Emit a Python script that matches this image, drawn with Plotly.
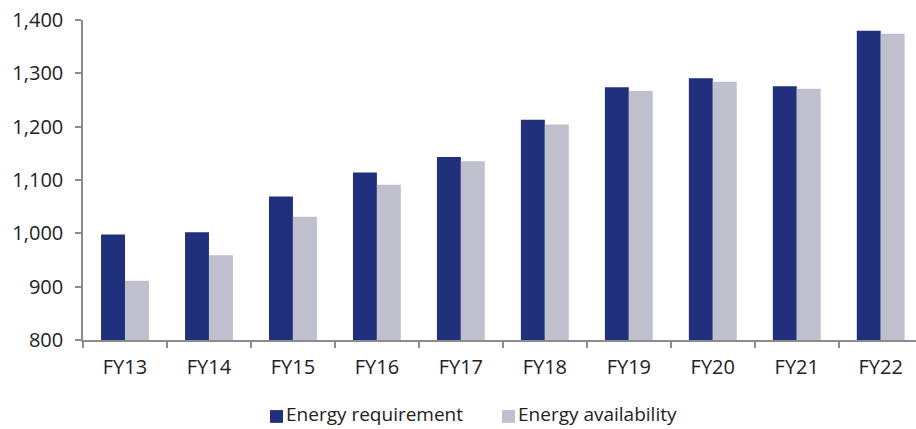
import plotly.graph_objects as go

# Fiscal years and energy figures (billion units)
years = ["FY13", "FY14", "FY15", "FY16", "FY17", "FY18", "FY19", "FY20", "FY21", "FY22"]
requirement = [998, 1002, 1069, 1114, 1143, 1213, 1274, 1291, 1276, 1380]
availability = [911, 959, 1031, 1091, 1135, 1204, 1267, 1284, 1271, 1374]
y_ticks = [800, 900, 1000, 1100, 1200, 1300, 1400]
series_names = ["Energy requirement", "Energy availability"]

NAVY = "#21307C"
LILAC = "#BFBFCD"
AXIS = "#8C8C8C"
TEXT = "#222222"
FONT = "Open Sans"

fig = go.Figure()
fig.add_trace(go.Bar(name=series_names[0], x=years, y=requirement,
                     marker=dict(color=NAVY, line=dict(width=0))))
fig.add_trace(go.Bar(name=series_names[1], x=years, y=availability,
                     marker=dict(color=LILAC, line=dict(width=0))))

fig.update_layout(
    width=916, height=429,
    margin=dict(l=83, r=0, t=20, b=89),
    paper_bgcolor="white", plot_bgcolor="white",
    barmode="group", bargap=0.43, bargroupgap=0,
    font=dict(family=FONT, size=20, color=TEXT),
    showlegend=False,
)
fig.update_xaxes(
    type="category", range=[-0.5, 9.42],
    showline=True, linecolor=AXIS, linewidth=1.5,
    ticks="outside", tickson="boundaries", ticklen=6, tickcolor=AXIS, tickwidth=1.5,
    ticklabelstandoff=8,
    showgrid=False, tickfont=dict(family=FONT, size=20, color=TEXT),
)
fig.update_yaxes(
    range=[800, 1400], tickvals=y_ticks, tickformat=",",
    showline=True, linecolor=AXIS, linewidth=1.5,
    ticks="outside", ticklen=6, tickcolor=AXIS, tickwidth=1.5,
    ticklabelstandoff=8,
    showgrid=False, zeroline=False, tickfont=dict(family=FONT, size=20, color=TEXT),
)

# Compact legend below the axis: colour swatch followed closely by its label
legend_items = [(series_names[0], NAVY, 0.2245), (series_names[1], LILAC, 0.503)]
sw_w = 0.0156  # swatch width in paper units
for name, color, x0 in legend_items:
    fig.add_shape(type="rect", xref="paper", yref="paper",
                  x0=x0, x1=x0 + sw_w, y0=-0.259, y1=-0.219,
                  fillcolor=color, line=dict(width=0))
    fig.add_annotation(text=name, xref="paper", yref="paper",
                       x=x0 + sw_w + 0.0025, y=-0.232, xanchor="left", yanchor="middle",
                       showarrow=False, borderpad=0,
                       font=dict(family=FONT, size=19, color=TEXT))

fig.write_html("out.html")
